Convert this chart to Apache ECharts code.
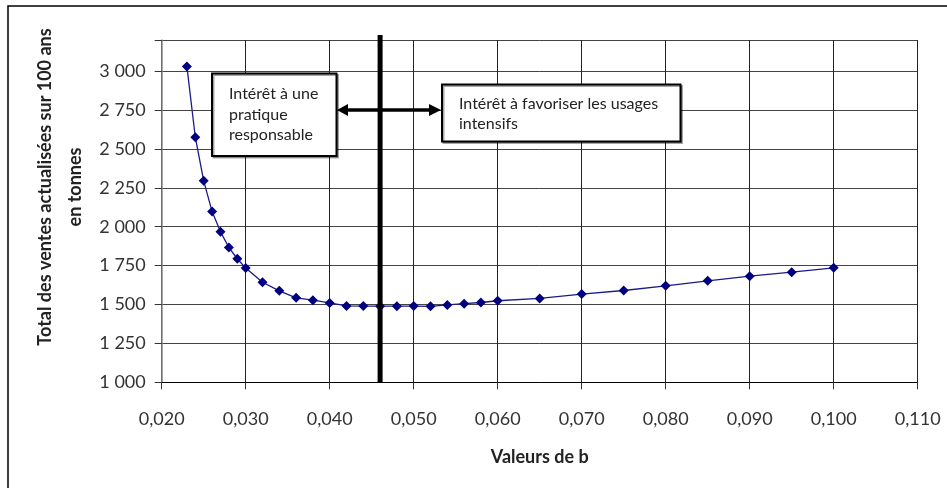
<!DOCTYPE html>
<html>
<head>
<meta charset="utf-8">
<script src="https://cdn.jsdelivr.net/npm/echarts@6/dist/echarts.min.js"></script>
<style>
html,body{margin:0;padding:0;background:#fff;}
#chart{width:947px;height:488px;}
</style>
</head>
<body>
<div id="chart"></div>
<script>
// Values de b (x) and total des ventes actualisées (y)
const bValues = [0.023,0.024,0.025,0.026,0.027,0.028,0.029,0.030,0.032,0.034,0.036,0.038,0.040,0.042,0.044,0.046,0.048,0.050,0.052,0.054,0.056,0.058,0.060,0.065,0.070,0.075,0.080,0.085,0.090,0.095,0.100];
const sales = [3030,2575,2295,2097,1967,1866,1794,1734,1643,1588,1543,1528,1510,1491,1490,1489,1489,1490,1488,1497,1505,1513,1524,1539,1567,1590,1620,1652,1682,1708,1736];
const thresholdB = 0.046;
const yTitleLines = ['Total des ventes actualisées sur 100 ans', 'en tonnes'];
const xTitle = 'Valeurs de b';
const leftNote = ['Intérêt à une', 'pratique', 'responsable'];
const rightNote = ['Intérêt à favoriser les usages', 'intensifs'];

const FONT = 'Lato, "Open Sans", sans-serif';
const chart = echarts.init(document.getElementById('chart'), null, {renderer: 'canvas'});

const seriesData = bValues.map((b, i) => [b, sales[i]]);

function fmtThousands(v) {
  return String(Math.round(v)).replace(/\B(?=(\d{3})+(?!\d))/g, ' ');
}

const option = {
  animation: false,
  backgroundColor: '#fff',
  grid: {left: 161.7, right: 29.3, top: 40, bottom: 105.7, containLabel: false},
  xAxis: {
    type: 'value', min: 0.02, max: 0.11, interval: 0.01,
    name: xTitle, nameLocation: 'middle', nameGap: 66,
    nameTextStyle: {fontFamily: FONT, fontWeight: 'bold', fontSize: 18, color: '#222'},
    axisLine: {show: true, lineStyle: {color: '#000', width: 1}},
    axisTick: {show: true, length: 7, lineStyle: {color: '#333'}},
    axisLabel: {margin: 28, fontFamily: FONT, fontSize: 18, color: '#333',
      formatter: v => v.toFixed(3).replace('.', ',')},
    splitLine: {show: true, lineStyle: {color: '#222', width: 1}}
  },
  yAxis: {
    type: 'value', min: 1000, max: 3200, interval: 250,
    axisLine: {show: true, lineStyle: {color: '#888', width: 1.5}},
    axisTick: {show: true, length: 7, lineStyle: {color: '#333'}},
    axisLabel: {margin: 16, fontFamily: FONT, fontSize: 18, color: '#333',
      formatter: v => (v > 3000 ? '' : fmtThousands(v))},
    splitLine: {show: true, lineStyle: {color: '#444', width: 1}}
  },
  series: [{
    type: 'line',
    data: seriesData,
    symbol: 'diamond',
    symbolSize: 10,
    lineStyle: {color: '#1a1a8c', width: 1.3},
    itemStyle: {color: '#000080'},
    z: 5
  }]
};
chart.setOption(option);

// annotations placed from the axis scales
const pBottom = chart.convertToPixel({gridIndex: 0}, [thresholdB, 1000]);
const lineX = pBottom[0];

function textBlock(lines, x, y, lh) {
  return lines.map((t, i) => ({
    type: 'text', x: x, y: y + i * lh, z: 20,
    style: {text: t, fontFamily: FONT, fontSize: 16, fill: '#222', textVerticalAlign: 'middle'}
  }));
}

const graphics = [
  // outer frame
  {type: 'rect', shape: {x: 8, y: 6, width: 1200, height: 1200}, style: {fill: 'none', stroke: '#000', lineWidth: 1.5}, z: 1},
  // y-axis title
  {type: 'text', x: 45, y: 187, rotation: Math.PI / 2, z: 10,
    style: {text: yTitleLines[0], fontFamily: FONT, fontWeight: 'bold', fontSize: 18, fill: '#222', textAlign: 'center', textVerticalAlign: 'middle'}},
  {type: 'text', x: 75, y: 187, rotation: Math.PI / 2, z: 10,
    style: {text: yTitleLines[1], fontFamily: FONT, fontWeight: 'bold', fontSize: 18, fill: '#222', textAlign: 'center', textVerticalAlign: 'middle'}},
  // threshold line
  {type: 'line', shape: {x1: lineX, y1: 35, x2: lineX, y2: pBottom[1]}, style: {stroke: '#000', lineWidth: 5}, z: 12},
  // double arrow
  {type: 'line', shape: {x1: 346, y1: 110, x2: 430, y2: 110}, style: {stroke: '#000', lineWidth: 3.5}, z: 13},
  {type: 'polygon', shape: {points: [[337, 110], [348, 104], [348, 116]]}, style: {fill: '#000'}, z: 13},
  {type: 'polygon', shape: {points: [[441, 110], [429, 104], [429, 116]]}, style: {fill: '#000'}, z: 13},
  // boxes
  {type: 'rect', shape: {x: 212, y: 73.5, width: 124.5, height: 82.5}, style: {fill: '#fff', stroke: '#000', lineWidth: 2, shadowColor: 'rgba(0,0,0,0.35)', shadowOffsetX: 1.5, shadowOffsetY: 1.5}, z: 15},
  {type: 'rect', shape: {x: 442, y: 84.5, width: 238.5, height: 57}, style: {fill: '#fff', stroke: '#000', lineWidth: 2, shadowColor: 'rgba(0,0,0,0.35)', shadowOffsetX: 1.5, shadowOffsetY: 1.5}, z: 15}
].concat(textBlock(leftNote, 229, 94, 20.5)).concat(textBlock(rightNote, 459, 103.5, 20.5));

chart.setOption({graphic: graphics});
</script>
</body>
</html>
